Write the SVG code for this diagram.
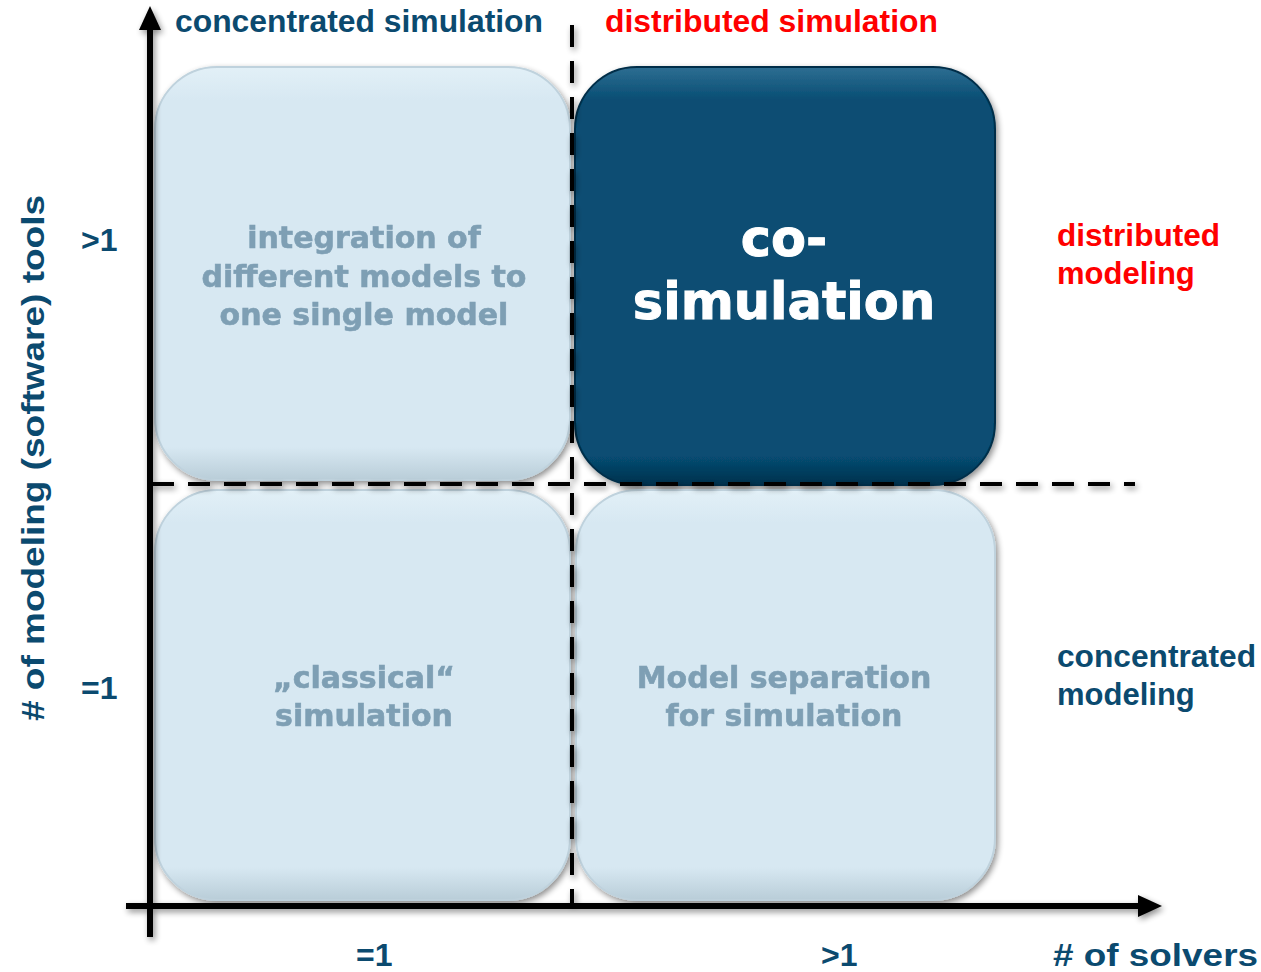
<svg xmlns="http://www.w3.org/2000/svg" width="1261" height="972" viewBox="0 0 1261 972">
<style>
.lab{font-family:"Liberation Sans",Arial,sans-serif;font-weight:bold;fill:#0B4A6F}
.red{fill:#FF0000}
.box{font-family:"DejaVu Sans","Liberation Sans",sans-serif;font-weight:bold;text-anchor:middle}
.lt{fill:#7E9FB4;stroke:#7E9FB4;stroke-width:0.6;font-size:30px}
.wt{fill:#FFFFFF;stroke:#FFFFFF;stroke-width:1;font-size:51px}
.dash{stroke:#000;stroke-width:4;stroke-dasharray:22 14;fill:none}
.ax{stroke:#000;stroke-width:6;fill:none}
</style>
<defs>
<filter id="sh" x="-10%" y="-10%" width="125%" height="125%">
<feGaussianBlur in="SourceAlpha" stdDeviation="3"/>
<feOffset dx="2" dy="3" result="b"/>
<feComponentTransfer><feFuncA type="linear" slope="0.45"/></feComponentTransfer>
<feMerge><feMergeNode/><feMergeNode in="SourceGraphic"/></feMerge>
</filter>
<linearGradient id="lg" x1="0" y1="0" x2="0" y2="1">
<stop offset="0" stop-color="#E2F0F7"/>
<stop offset="0.08" stop-color="#D7E8F2"/>
<stop offset="0.92" stop-color="#D7E8F2"/>
<stop offset="1" stop-color="#B9CDD8"/>
</linearGradient>
<linearGradient id="dg" x1="0" y1="0" x2="0" y2="1">
<stop offset="0" stop-color="#2E6E92"/>
<stop offset="0.08" stop-color="#074D73"/>
<stop offset="0.93" stop-color="#074D73"/>
<stop offset="1" stop-color="#03314D"/>
</linearGradient>
</defs>

<g id="node-integration" filter="url(#sh)">
<rect x="155" y="67" width="415" height="413" rx="62" fill="url(#lg)" stroke="#BFD2DD" stroke-width="2"/>
<text class="box lt"><tspan x="364" y="248">integration of</tspan><tspan x="364" y="287">different models to</tspan><tspan x="364" y="325">one single model</tspan></text>
</g>
<g id="node-cosim" filter="url(#sh)">
<rect x="575" y="67" width="420" height="418" rx="62" fill="url(#dg)" stroke="#052F49" stroke-width="2"/>
<text class="box wt"><tspan x="784" y="256">co-</tspan><tspan x="784" y="319">simulation</tspan></text>
</g>
<g id="node-classical" filter="url(#sh)">
<rect x="155" y="490" width="415" height="410" rx="62" fill="url(#lg)" stroke="#BFD2DD" stroke-width="2"/>
<text class="box lt"><tspan x="364" y="688">„classical“</tspan><tspan x="364" y="726">simulation</tspan></text>
</g>
<g id="node-separation" filter="url(#sh)">
<rect x="576" y="490" width="419" height="410" rx="62" fill="url(#lg)" stroke="#BFD2DD" stroke-width="2"/>
<text class="box lt"><tspan x="784" y="688">Model separation</tspan><tspan x="784" y="726">for simulation</tspan></text>
</g>

<g id="connectors" filter="url(#sh)">
<line class="dash" x1="572" y1="25" x2="572" y2="906"/>
<line class="dash" x1="152" y1="484" x2="1135" y2="484"/>
<line class="ax" x1="150" y1="937" x2="150" y2="30"/>
<path d="M150,6 L139,30 L161,30 z" fill="#000"/>
<line class="ax" x1="126" y1="906" x2="1140" y2="906"/>
<path d="M1162,906 L1138,895 L1138,917 z" fill="#000"/>
</g>

<g id="labels">
<text class="lab" x="175" y="32" font-size="31" textLength="368" lengthAdjust="spacingAndGlyphs">concentrated simulation</text>
<text class="lab red" x="605" y="32" font-size="31" textLength="333" lengthAdjust="spacingAndGlyphs">distributed simulation</text>
<text class="lab red" x="1057" y="246" font-size="31" textLength="163" lengthAdjust="spacingAndGlyphs">distributed</text>
<text class="lab red" x="1057" y="284" font-size="31">modeling</text>
<text class="lab" x="1057" y="667" font-size="31" textLength="199" lengthAdjust="spacingAndGlyphs">concentrated</text>
<text class="lab" x="1057" y="705" font-size="31">modeling</text>
<text class="lab" x="81" y="251" font-size="32">&gt;1</text>
<text class="lab" x="81" y="699" font-size="32">=1</text>
<text class="lab" x="356" y="966" font-size="32">=1</text>
<text class="lab" x="821" y="966" font-size="32">&gt;1</text>
<text class="lab" x="1053" y="966" font-size="32" textLength="205" lengthAdjust="spacingAndGlyphs"># of solvers</text>
<text class="lab" transform="translate(44,458) rotate(-90)" text-anchor="middle" font-size="32" textLength="526" lengthAdjust="spacingAndGlyphs"># of modeling (software) tools</text>
</g>
</svg>
